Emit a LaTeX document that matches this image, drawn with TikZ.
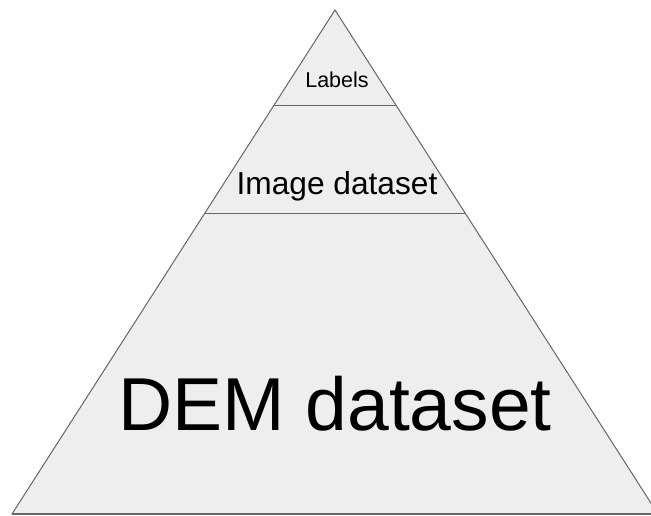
\documentclass[tikz,border=0pt]{standalone}
\usepackage{fontspec}
\setmainfont{Liberation Sans}
\definecolor{layerfill}{HTML}{EEEEEE}
\definecolor{edgegray}{HTML}{666666}
\tikzset{
  layer/.style={draw=edgegray, line width=1pt},
  tier/.style={font=#1, text=black, inner sep=0pt, anchor=base}
}
\begin{document}
\begin{tikzpicture}[x=1pt, y=-1pt]
  \useasboundingbox (0,0) rectangle (651,516);
  \clip (0,0) rectangle (651,516);
  % pyramid corners
  \coordinate (apex) at (335,10);
  \coordinate (bl) at (12,514);
  \coordinate (br) at (658,514);
  \filldraw[layer, fill=layerfill, line join=round] (apex) -- (bl) -- (br) -- cycle;
  \draw[layer, line width=1.6pt] (bl) -- (br);
  % tier dividers
  \path (apex) -- (bl) coordinate[pos=0.1885] (l1) coordinate[pos=0.4028] (l2);
  \path (apex) -- (br) coordinate[pos=0.1885] (r1) coordinate[pos=0.4028] (r2);
  \draw[layer] (l1) -- (r1);
  \draw[layer] (l2) -- (r2);
  % tier labels
  \node[tier={\fontsize{21.5}{24}\selectfont}] (labels) at (337,88) {Labels};
  \node[tier={\fontsize{31.7}{36}\selectfont}] (image) at (337,195) {Image dataset};
  \node[tier={\fontsize{75}{84}\selectfont}] (dem) at (335,430) {DEM dataset};
\end{tikzpicture}
\end{document}
